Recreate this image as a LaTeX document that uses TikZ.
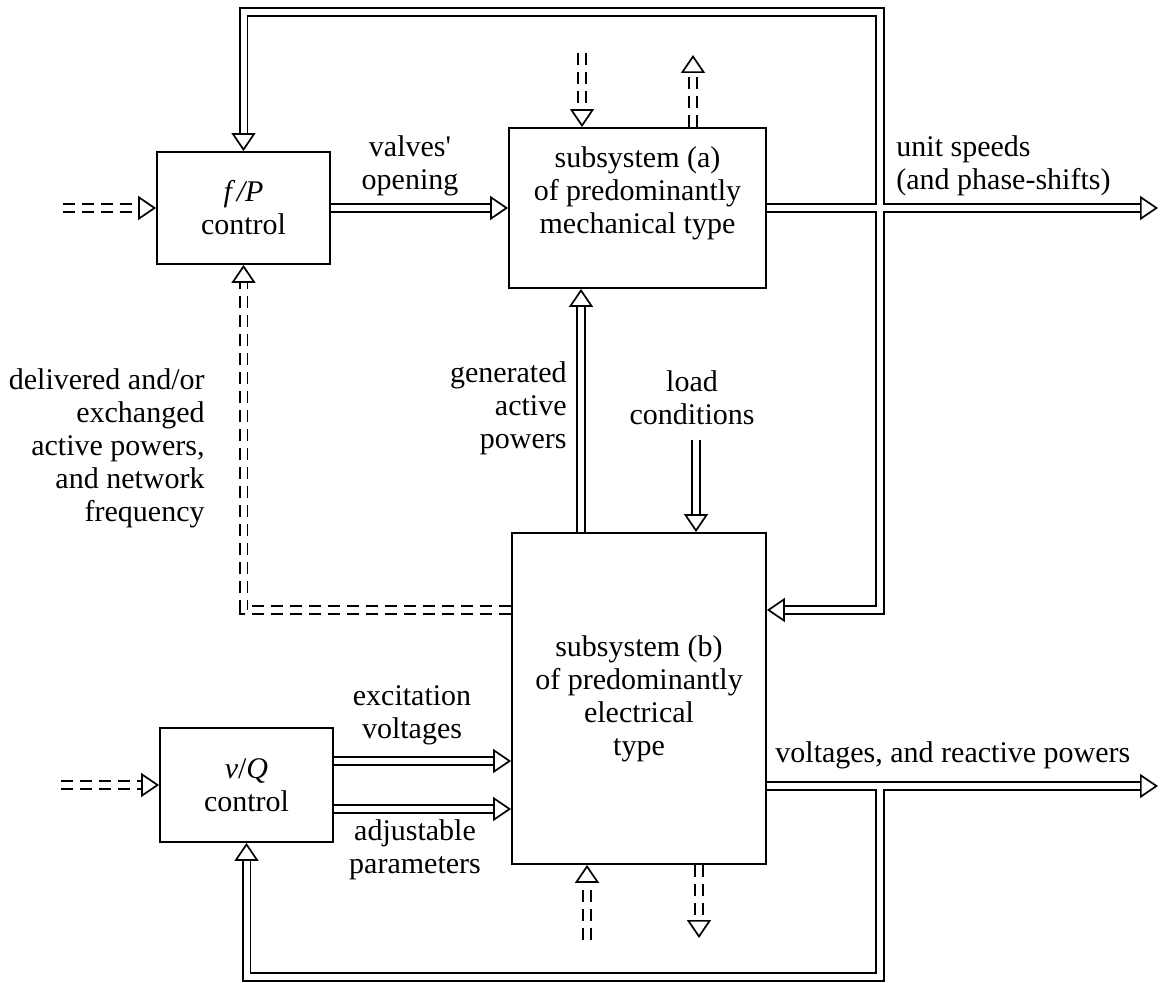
\documentclass[tikz,border=0pt]{standalone}
\usepackage{fontspec}
\setmainfont{Liberation Serif}
\usetikzlibrary{arrows.meta}

\tikzset{
  block/.style={draw, line width=0.9pt, align=center},
  txt/.style={inner sep=0pt},
  pipe/.style={double, double distance=3pt, line width=0.85pt,
    -{Triangle[open, width=12pt, length=9pt, line width=0.85pt]}},
  dpipe/.style={pipe, dash pattern=on 6pt off 3.5pt},
}

\begin{document}
\begin{tikzpicture}[x=0.5pt, y=-0.5pt, font=\fontsize{15}{16.5}\selectfont]
\useasboundingbox (0,0) rectangle (1161,983);

% blocks
\node[block, minimum width=86.5pt, minimum height=56pt] (fp) at (243.5,208) {\textit{f\,/P}\\control};
\node[block, minimum width=128.5pt, minimum height=80pt,
  label={[align=center, yshift=7.5pt]center:subsystem (a)\\of predominantly\\mechanical type}] (suba) at (637.5,208) {};
\node[block, minimum width=127pt, minimum height=165.5pt] (subb) at (639,698.5) {subsystem (b)\\of predominantly\\electrical\\type};
\node[block, minimum width=86.5pt, minimum height=57pt] (vq) at (246.5,785) {\textit{v}/\textit{Q}\\control};

% free ends
\coordinate (fpin) at (63,208);
\coordinate (vqin) at (61,785);
\coordinate (spd) at (1158,208);
\coordinate (vlt) at (1158,786);
\coordinate (jA) at (880,208);
\coordinate (jB) at (880,786);
\coordinate (top) at (0,12);
\coordinate (bot) at (0,977);
\coordinate (fb) at (0,610);
\coordinate (ain) at (582,53);
\coordinate (aout) at (693,55);
\coordinate (bin) at (587,940);
\coordinate (bout) at (699,938);
\coordinate (gen) at (581,0);
\coordinate (load) at (696,440);

% connectors
\draw[dpipe] (fpin) -- (fp.west);
\draw[dpipe] (vqin) -- (vq.west);
\draw[pipe] (fp.east) -- (suba.west);
\draw[pipe] (suba.east) -- (spd);
\draw[pipe] (subb.east |- vlt) -- (vlt);
\draw[pipe] (jA) -- (jA |- top) -| (fp.north);
\draw[pipe] (jA) |- (subb.east |- fb);
\draw[pipe] (jB) -- (jB |- bot) -| (vq.south);
\draw[dpipe] (subb.west |- fb) -| (fp.south);
\draw[pipe] (gen |- subb.north) -- (gen |- suba.south);
\draw[pipe] (load) -- (load |- subb.north);
\draw[pipe] ([yshift=12pt]vq.east) -- ([yshift=12pt]vq.east -| subb.west);
\draw[pipe] ([yshift=-12pt]vq.east) -- ([yshift=-12pt]vq.east -| subb.west);
\draw[dpipe] (ain) -- (ain |- suba.north);
\draw[dpipe] (aout |- suba.north) -- (aout);
\draw[dpipe] (bin) -- (bin |- subb.south);
\draw[dpipe] (bout |- subb.south) -- (bout);

% open the junctions
\fill[white] ([xshift=-2.4pt, yshift=-1.5pt]jA) rectangle ([xshift=2.4pt, yshift=1.5pt]jA);
\fill[white] ([xshift=-2.4pt, yshift=-1.5pt]jB) rectangle ([xshift=2.4pt, yshift=1.5pt]jB);

% labels
\node[txt, align=center] (valves) at (410,166) {valves\textquotesingle\\opening};
\node[txt, align=left, anchor=west] (speeds) at (896,166) {unit speeds\\(and phase-shifts)};
\node[txt, align=right, anchor=east] (gentxt) at (567,408) {generated\\active\\powers};
\node[txt, align=center] (loadtxt) at (692,398) {load\\conditions};
\node[txt, align=right, anchor=east] (deliv) at (205,448) {delivered and/or\\exchanged\\active powers,\\and network\\frequency};
\node[txt, align=center] (exc) at (412,715) {excitation\\voltages};
\node[txt, align=center] (adj) at (415,850) {adjustable\\parameters};
\node[txt, anchor=west] (volt) at (775,755) {voltages, and reactive powers};
\end{tikzpicture}
\end{document}
